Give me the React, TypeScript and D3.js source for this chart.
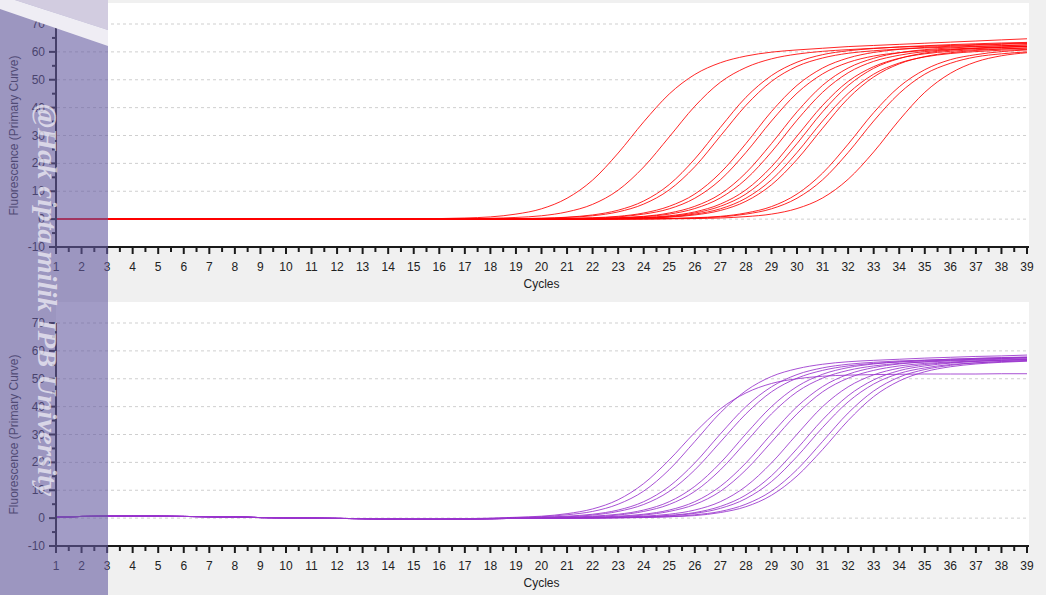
import React from "react";
import * as d3 from "d3";

const cycles = [1, 2, 3, 4, 5, 6, 7, 8, 9, 10, 11, 12, 13, 14, 15, 16, 17, 18, 19, 20, 21, 22, 23, 24, 25, 26, 27, 28, 29, 30, 31, 32, 33, 34, 35, 36, 37, 38, 39];
const yMajorTicks = [-10, 0, 10, 20, 30, 40, 50, 60, 70];
const yMinorTicks = [-5, 5, 15, 25, 35, 45, 55, 65];
const gridValues = [0, 10, 20, 30, 40, 50, 60, 70];
const xLabel = "Cycles";
const yLabel = "Fluorescence (Primary Curve)";
const watermark = "@Hak cipta milik IPB University";

// Top panel (red) – fluorescence per cycle
const redCurves: number[][] = [
  [0,0,0,0,0,0,0,0,0,0,0,0,0,0,0,0.2,0.4,0.8,1.8,3.7,7.5,14.0,23.7,34.9,44.9,51.9,56.1,58.5,59.9,60.7,61.3,61.9,62.3,62.7,63.1,63.5,63.9,64.3,64.7],
  [0,0,0,0,0,0,0,0,0,0,0,0,0,0,0,0,0.1,0.3,0.6,1.2,2.6,5.3,10.4,18.7,29.5,40.5,49.1,54.4,57.5,59.2,60.2,60.8,61.3,61.7,62.0,62.3,62.6,62.9,63.2],
  [0,0,0,0,0,0,0,0,0,0,0,0,0,0,0,0,0,0.1,0.2,0.3,0.7,1.5,3.2,6.5,12.4,21.6,32.9,43.7,51.5,56.3,59.0,60.4,61.2,61.8,62.2,62.6,62.9,63.2,63.4],
  [0,0,0,0,0,0,0,0,0,0,0,0,0,0,0,0,0,0,0.1,0.3,0.6,1.2,2.6,5.4,10.5,18.8,29.8,40.8,49.4,54.8,57.8,59.5,60.4,61.0,61.4,61.7,62.0,62.2,62.5],
  [0,0,0,0,0,0,0,0,0,0,0,0,0,0,0,0,0,0,0,0.1,0.2,0.5,1.0,2.2,4.6,9.0,16.6,27.1,38.6,48.0,54.2,57.8,59.8,60.9,61.6,62.0,62.4,62.7,63.0],
  [0,0,0,0,0,0,0,0,0,0,0,0,0,0,0,0,0,0,0,0.1,0.2,0.4,0.8,1.8,3.7,7.5,14.1,23.9,35.2,45.2,52.1,56.2,58.5,59.7,60.5,61.0,61.4,61.8,62.0],
  [0,0,0,0,0,0,0,0,0,0,0,0,0,0,0,0,0,0,0,0,0.1,0.2,0.5,1.0,2.2,4.6,9.0,16.6,27.1,38.5,48.0,54.2,57.7,59.7,60.8,61.4,61.9,62.2,62.5],
  [0,0,0,0,0,0,0,0,0,0,0,0,0,0,0,0,0,0,0,0,0.1,0.2,0.4,0.9,1.8,3.8,7.6,14.3,24.1,35.5,45.5,52.5,56.6,58.8,60.1,60.8,61.3,61.6,62.0],
  [0,0,0,0,0,0,0,0,0,0,0,0,0,0,0,0,0,0,0,0,0,0.1,0.3,0.6,1.2,2.6,5.4,10.5,18.8,29.8,40.8,49.4,54.7,57.7,59.3,60.2,60.8,61.1,61.4],
  [0,0,0,0,0,0,0,0,0,0,0,0,0,0,0,0,0,0,0,0,0,0.1,0.2,0.5,1.0,2.2,4.6,9.0,16.6,27.1,38.5,47.9,54.1,57.6,59.6,60.6,61.2,61.6,61.9],
  [0,0,0,0,0,0,0,0,0,0,0,0,0,0,0,0,0,0,0,0,0,0.1,0.2,0.4,0.8,1.8,3.7,7.5,14.1,23.9,35.2,45.1,52.0,56.0,58.2,59.4,60.1,60.6,60.9],
  [0,0,0,0,0,0,0,0,0,0,0,0,0,0,0,0,0,0,0,0,0,0,0.2,0.3,0.7,1.5,3.1,6.4,12.3,21.4,32.6,43.3,51.0,55.7,58.3,59.7,60.5,61.0,61.4],
  [0,0,0,0,0,0,0,0,0,0,0,0,0,0,0,0,0,0,0,0,0,0,0,0.1,0.2,0.5,1.0,2.2,4.5,9.0,16.5,26.9,38.2,47.5,53.6,57.2,59.0,60.1,60.7],
  [0,0,0,0,0,0,0,0,0,0,0,0,0,0,0,0,0,0,0,0,0,0,0,0.1,0.2,0.4,0.8,1.8,3.7,7.5,14.1,23.9,35.2,45.1,52.0,55.9,58.2,59.3,60.0],
  [0,0,0,0,0,0,0,0,0,0,0,0,0,0,0,0,0,0,0,0,0,0,0,0,0.1,0.2,0.4,0.9,1.8,3.8,7.6,14.3,24.1,35.5,45.5,52.3,56.4,58.6,59.7],
];

// Bottom panel (purple) – baseline drift shared by all wells, plus amplification per well
const purpleBaseline = [0.3,0.6,0.7,0.7,0.7,0.6,0.5,0.4,0.2,0.1,0,-0.1,-0.2,-0.3,-0.4,-0.4,-0.3,-0.2,-0.1,0,0,0,0,0,0,0,0,0,0,0,0,0,0,0,0,0,0,0,0];
const purpleCurves: number[][] = [
  [0,0,0,0,0,0,0,0,0,0,0,0,0,0,0,0,0.1,0.2,0.4,0.7,1.6,3.3,6.6,12.4,20.9,30.7,39.2,44.9,48.3,50.0,50.9,51.3,51.5,51.6,51.7,51.7,51.7,51.8,51.8],
  [0,0,0,0,0,0,0,0,0,0,0,0,0,0,0,0,0,0.1,0.3,0.5,1.2,2.4,5.0,9.7,17.4,27.5,37.8,45.7,50.8,53.6,55.2,56.1,56.6,57.0,57.4,57.7,58.0,58.2,58.5],
  [0,0,0,0,0,0,0,0,0,0,0,0,0,0,0,0,0,0,0.1,0.3,0.7,1.4,2.9,5.9,11.4,19.8,30.2,40.0,47.1,51.5,53.9,55.2,55.9,56.4,56.7,57.0,57.3,57.5,57.7],
  [0,0,0,0,0,0,0,0,0,0,0,0,0,0,0,0,0,0,0.1,0.3,0.5,1.1,2.4,4.9,9.6,17.3,27.3,37.4,45.3,50.2,53.0,54.6,55.5,56.0,56.4,56.7,57.0,57.2,57.5],
  [0,0,0,0,0,0,0,0,0,0,0,0,0,0,0,0,0,0,0,0.1,0.3,0.7,1.4,2.9,5.9,11.4,19.8,30.2,40.0,47.2,51.6,54.0,55.3,56.1,56.6,57.0,57.3,57.6,57.8],
  [0,0,0,0,0,0,0,0,0,0,0,0,0,0,0,0,0,0,0,0.1,0.3,0.5,1.1,2.4,4.9,9.6,17.3,27.3,37.4,45.3,50.2,53.0,54.6,55.5,56.0,56.4,56.7,57.0,57.2],
  [0,0,0,0,0,0,0,0,0,0,0,0,0,0,0,0,0,0,0,0,0.1,0.3,0.7,1.4,2.9,5.9,11.4,19.8,30.2,40.0,47.2,51.6,54.0,55.3,56.1,56.6,57.0,57.3,57.6],
  [0,0,0,0,0,0,0,0,0,0,0,0,0,0,0,0,0,0,0,0,0.1,0.3,0.5,1.1,2.4,4.9,9.6,17.3,27.3,37.4,45.3,50.2,53.0,54.6,55.5,56.0,56.4,56.7,57.0],
  [0,0,0,0,0,0,0,0,0,0,0,0,0,0,0,0,0,0,0,0,0,0.1,0.3,0.7,1.4,2.9,5.9,11.4,19.8,30.1,40.0,47.1,51.4,53.8,55.1,55.8,56.3,56.6,56.9],
  [0,0,0,0,0,0,0,0,0,0,0,0,0,0,0,0,0,0,0,0,0,0.1,0.2,0.5,1.0,2.0,4.2,8.3,15.2,24.9,35.3,43.9,49.6,52.9,54.6,55.6,56.2,56.6,56.8],
  [0,0,0,0,0,0,0,0,0,0,0,0,0,0,0,0,0,0,0,0,0,0.1,0.2,0.4,0.8,1.7,3.5,7.0,13.1,22.1,32.5,41.7,48.1,51.9,53.9,55.1,55.7,56.2,56.5],
  [0,0,0,0,0,0,0,0,0,0,0,0,0,0,0,0,0,0,0,0,0,0,0.1,0.3,0.5,1.2,2.4,5.0,9.7,17.4,27.5,37.7,45.6,50.6,53.3,54.8,55.7,56.1,56.5],
  [0,0,0,0,0,0,0,0,0,0,0,0,0,0,0,0,0,0,0,0,0,0,0.1,0.2,0.5,0.9,2.0,4.1,8.2,15.1,24.6,35.0,43.6,49.2,52.5,54.3,55.3,55.9,56.3],
];

const W = 1046;
const H = 595;
const FONT = "'Liberation Sans', Arial, sans-serif";

type PanelProps = {
  top: number;
  curves: number[][];
  color: string;
  baseline?: number[];
};

function Panel({ top, curves, color, baseline }: PanelProps) {
  const x = d3.scaleLinear().domain([cycles[0], cycles[cycles.length - 1]]).range([56, 1027]);
  const y = d3.scaleLinear().domain([-10, 70]).range([top + 223, top]);
  const axisY = y(-10);
  const line = d3
    .line<number>()
    .x((_, i) => x(cycles[i]))
    .y((v, i) => y(v + (baseline ? baseline[i] : 0)))
    .curve(d3.curveMonotoneX);
  const halfTicks = cycles.slice(0, -1).map((c) => c + 0.5);

  return (
    <g>
      <rect x={56} y={top - 21} width={1029 - 56} height={axisY - (top - 21)} fill="#ffffff" />
      {gridValues.map((v) => (
        <line key={"g" + v} x1={57} x2={1029} y1={y(v)} y2={y(v)} stroke="#cfcfcf" strokeWidth={1} strokeDasharray="3,3" />
      ))}
      {curves.map((c, i) => (
        <path key={"c" + i} d={line(c) || ""} fill="none" stroke={color} strokeWidth={1} strokeOpacity={0.85} />
      ))}
      {/* y axis */}
      <line x1={56} x2={56} y1={y(70)} y2={axisY + 1} stroke="#1a1a1a" strokeWidth={2} />
      {yMajorTicks.map((v) => (
        <g key={"ym" + v}>
          <line x1={49} x2={56} y1={y(v)} y2={y(v)} stroke="#1a1a1a" strokeWidth={2} />
          <text x={45} y={y(v) + 4} textAnchor="end" fontFamily={FONT} fontSize={12} fill="#222">
            {v}
          </text>
        </g>
      ))}
      {yMinorTicks.map((v) => (
        <line key={"yn" + v} x1={52} x2={56} y1={y(v)} y2={y(v)} stroke="#1a1a1a" strokeWidth={2} />
      ))}
      {/* x axis */}
      <line x1={55} x2={1029} y1={axisY} y2={axisY} stroke="#1a1a1a" strokeWidth={2} />
      {cycles.map((c) => (
        <g key={"xm" + c}>
          <line x1={x(c)} x2={x(c)} y1={axisY} y2={axisY + 7} stroke="#1a1a1a" strokeWidth={2} />
          <text x={x(c)} y={axisY + 24} textAnchor="middle" fontFamily={FONT} fontSize={12} fill="#222">
            {c}
          </text>
        </g>
      ))}
      {halfTicks.map((c) => (
        <line key={"xh" + c} x1={x(c)} x2={x(c)} y1={axisY} y2={axisY + 5} stroke="#1a1a1a" strokeWidth={2} />
      ))}
      <text x={(x(1) + x(39)) / 2} y={axisY + 41} textAnchor="middle" fontFamily={FONT} fontSize={12} fill="#222">
        {xLabel}
      </text>
      <text
        transform={`translate(18, ${(y(70) + axisY) / 2}) rotate(-90)`}
        textAnchor="middle"
        fontFamily={FONT}
        fontSize={12}
        fill="#333"
      >
        {yLabel}
      </text>
    </g>
  );
}

export default function App() {
  return (
    <svg
      width={W}
      height={H}
      viewBox={`0 0 ${W} ${H}`}
      style={{ position: "absolute", left: 0, top: 0, display: "block" }}
    >
      <rect x={0} y={0} width={W} height={H} fill="#f0f0f0" />
      <Panel top={24} curves={redCurves} color="#ff0000" />
      <Panel top={323} curves={purpleCurves} color="#9932cc" baseline={purpleBaseline} />
      {/* watermark overlay */}
      <rect x={0} y={0} width={108} height={H} fill="rgb(100,90,160)" fillOpacity={0.6} />
      <polygon points="15,0 108,0 108,30" fill="#d2cce0" />
      <polygon points="0,0 15,0 108,30 108,46 0,9" fill="#efedf4" />
      <text
        transform="translate(38, 104) rotate(90)"
        fontFamily="'Liberation Serif', 'DejaVu Serif', serif"
        fontStyle="italic"
        fontWeight="bold"
        fontSize={28}
        fill="#f2f0f7"
        fillOpacity={0.72}
        textLength={392}
        lengthAdjust="spacingAndGlyphs"
      >
        {watermark}
      </text>
    </svg>
  );
}
